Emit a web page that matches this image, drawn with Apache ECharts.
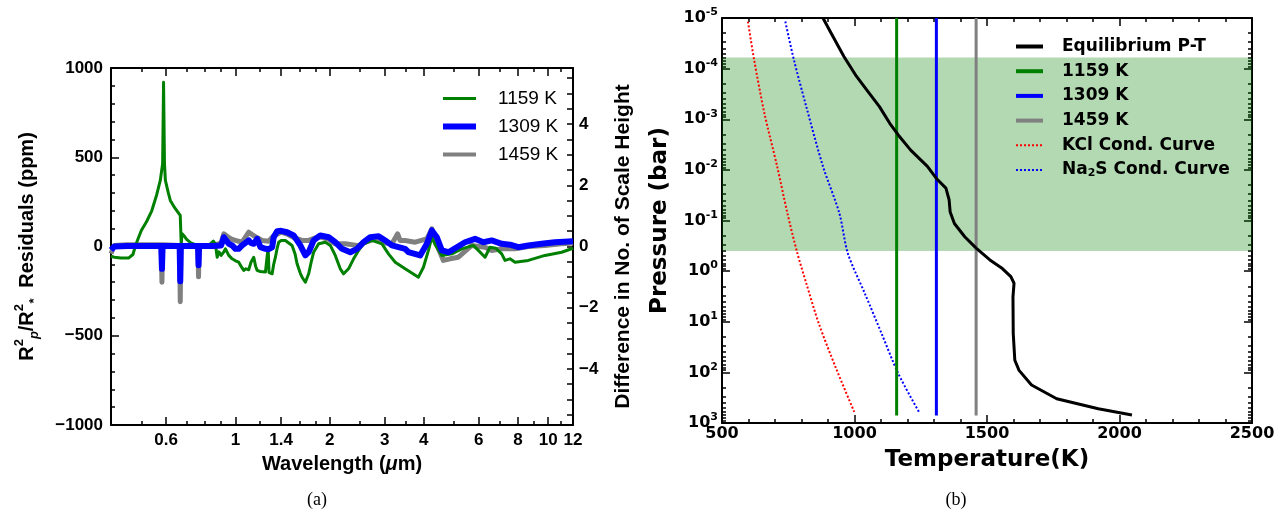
<!DOCTYPE html>
<html>
<head>
<meta charset="utf-8">
<script src="https://cdn.jsdelivr.net/npm/echarts@6/dist/echarts.min.js"></script>
<style>
  html, body { margin: 0; padding: 0; background: #fff; }
  #chart { width: 1285px; height: 516px; }
</style>
</head>
<body>
<div id="chart"></div>
<script>
// ---- (a) residuals vs wavelength ----
const wl1159 = [0.40, 0.41, 0.43, 0.455, 0.47, 0.48, 0.49, 0.50, 0.52, 0.54, 0.56, 0.575, 0.585, 0.589, 0.593, 0.597, 0.61, 0.619, 0.635, 0.65, 0.666, 0.669, 0.671, 0.674, 0.685, 0.698, 0.72, 0.744, 0.78, 0.82, 0.85, 0.862, 0.874, 0.885, 0.90, 0.918, 0.929, 0.952, 0.976, 1.0, 1.024, 1.05, 1.063, 1.08, 1.103, 1.12, 1.144, 1.16, 1.173, 1.20, 1.217, 1.247, 1.265, 1.272, 1.28, 1.31, 1.325, 1.342, 1.359, 1.375, 1.40, 1.444, 1.48, 1.517, 1.55, 1.574, 1.612, 1.633, 1.673, 1.714, 1.75, 1.778, 1.845, 1.938, 2.01, 2.085, 2.163, 2.217, 2.299, 2.386, 2.475, 2.57, 2.73, 2.94, 3.085, 3.242, 3.487, 3.846, 3.99, 4.14, 4.245, 4.35, 4.568, 4.916, 5.29, 5.76, 5.977, 6.28, 6.514, 6.8, 7.10, 7.274, 7.546, 7.83, 8.635, 9.761, 11.04, 12];
const res1159 = [-55, -60, -65, -65, -45, 10, 50, 90, 140, 200, 290, 370, 465, 920, 465, 370, 300, 258, 225, 200, 174, 165, 5, 73, 60, 40, 20, 10, 5, 5, 30, 15, -60, -30, -50, -30, -13, -50, -69, -80, -88, -120, -134, -125, -130, -90, -60, -110, -134, -140, -143, -143, -140, -4, -145, -153, -100, -60, -10, 24, 34, 34, 20, 6, -40, -97, -150, -172, -200, -153, -80, -32, 15, 24, 6, -50, -125, -153, -125, -69, -22, 15, 34, 15, -41, -88, -125, -172, -116, -22, 52, 10, -50, -41, -13, 6, -22, -60, -4, -10, -41, -78, -69, -88, -78, -50, -32, -10];

const wl1309 = [0.40, 0.41, 0.45, 0.50, 0.579, 0.581, 0.582, 0.583, 0.585, 0.663, 0.665, 0.666, 0.667, 0.669, 0.759, 0.761, 0.762, 0.763, 0.765, 0.85, 0.90, 0.918, 0.929, 0.952, 0.976, 1.0, 1.024, 1.05, 1.063, 1.103, 1.12, 1.144, 1.173, 1.202, 1.247, 1.277, 1.31, 1.325, 1.359, 1.40, 1.462, 1.535, 1.612, 1.673, 1.714, 1.778, 1.867, 1.986, 2.085, 2.191, 2.328, 2.446, 2.568, 2.697, 2.868, 3.011, 3.164, 3.487, 3.573, 3.895, 4.092, 4.245, 4.404, 4.568, 4.795, 5.10, 5.42, 5.834, 6.202, 6.596, 7.10, 7.546, 8.023, 8.635, 9.526, 10.50, 12];
const res1309 = [-20, 0, 3, 3, 3, 3, -125, -125, 3, 3, 3, -195, -195, 3, 3, 3, -105, -105, 3, 3, 6, 52, 43, 15, 6, -13, -13, 6, 6, 34, 20, 15, 43, -4, -13, -15, -5, 52, 86, 88, 80, 62, 6, -50, -32, 34, 62, 52, 24, -13, -32, -13, 24, 52, 58, 34, 6, -13, -32, -50, 15, 90, 52, -22, -32, -4, 24, 43, 24, 34, 15, 10, -4, 6, 15, 24, 30];

const wl1459 = [0.40, 0.41, 0.45, 0.50, 0.579, 0.581, 0.582, 0.583, 0.585, 0.663, 0.665, 0.666, 0.667, 0.669, 0.759, 0.761, 0.762, 0.763, 0.765, 0.85, 0.90, 0.918, 0.952, 0.976, 1.0, 1.05, 1.103, 1.144, 1.217, 1.277, 1.325, 1.40, 1.462, 1.535, 1.633, 1.714, 1.845, 1.986, 2.085, 2.245, 2.475, 2.568, 2.799, 3.011, 3.164, 3.30, 3.36, 3.487, 3.754, 4.092, 4.245, 4.456, 4.622, 4.855, 5.16, 5.694, 6.28, 6.596, 7.10, 7.83, 8.635, 9.761, 11.0, 12];
const res1459 = [-40, 5, 10, 10, 10, 10, -200, -200, 10, 5, 5, -310, -310, 5, 5, 5, -170, -170, 5, 5, 20, 71, 50, 40, 34, 24, 80, 60, 34, 30, 60, 80, 70, 50, 34, 34, 55, 40, 15, 15, 5, 20, 43, 20, 15, 71, 34, 34, 24, 43, 99, -13, -78, -69, -60, 6, -4, -22, -13, -13, 0, 6, 15, 20];

const wlMajor = [0.6, 1, 1.4, 2, 3, 4, 6, 8, 10, 12];
const wlMinor = [0.5, 0.7, 0.8, 0.9, 1.2, 1.6, 1.8, 2.5, 3.5, 5, 7, 9, 11];
const scaleHeightLabels = [-4, -2, 0, 2, 4];

// ---- (b) P-T profile ----
const ptTemp = [881, 912, 960, 1007, 1046, 1094, 1133, 1165, 1212, 1275, 1309, 1345, 1357, 1361, 1377, 1416, 1460, 1511, 1558, 1590, 1602, 1598, 1599, 1605, 1621, 1668, 1763, 1920, 2047];
const ptLogP = [-5, -4.70, -4.24, -3.85, -3.58, -3.25, -2.92, -2.69, -2.39, -2.07, -1.83, -1.64, -1.41, -1.17, -0.94, -0.68, -0.45, -0.22, -0.05, 0.11, 0.24, 0.51, 1.23, 1.76, 1.96, 2.25, 2.52, 2.72, 2.84];
const kclTemp = [598, 621, 660, 708, 747, 783, 818, 865, 928, 999];
const kclLogP = [-4.93, -4.18, -3.12, -2.07, -1.14, -0.38, 0.24, 1.03, 1.89, 2.78];
const na2sTemp = [739, 771, 818, 881, 943, 975, 1039, 1102, 1165, 1243];
const na2sLogP = [-4.93, -4.18, -3.25, -2.07, -1.14, -0.35, 0.44, 1.23, 2.02, 2.78];
const isoTemps = [1159, 1309, 1459];
const isoLogP = [-5, 2.85];
const bandLogP = [-4.22, -0.40];

const LOG = Math.log10;
const minus = s => String(s).replace('-', '\u2212');
const HELV = 'Liberation Sans';
const DJV = 'DejaVu Sans';

function toPairs(xs, ys, fx) {
    return xs.map((x, i) => [fx ? fx(x) : x, ys[i]]);
}

// log-decade minor ticks for pressure axis
const pMinor = [];
for (let n = -5; n < 3; n++) {
    for (let k = 2; k <= 9; k++) pMinor.push(n + LOG(k));
}
const shTicks = [];
for (let v = -5.5; v <= 5.5; v += 0.5) shTicks.push(v);

const tickStyle = { color: '#000', width: 1.5 };
const frame = { show: true, onZero: false, lineStyle: { color: '#000', width: 2 } };
const noLine = { show: false, onZero: false };

function tickAxis(base, values, len, showLine) {
    return Object.assign({
        type: 'value',
        axisLine: showLine ? frame : noLine,
        axisLabel: { show: false },
        axisTick: { show: true, inside: true, length: len, customValues: values, lineStyle: tickStyle },
        splitLine: { show: false }
    }, base);
}

const wlMin = LOG(0.4), wlMax = LOG(12);

const xAxes = [
    {
        type: 'value', gridIndex: 0, position: 'bottom', min: wlMin, max: wlMax,
        axisLine: frame,
        axisTick: { inside: true, length: 8, customValues: wlMajor.map(LOG), lineStyle: tickStyle },
        axisLabel: {
            customValues: wlMajor.map(LOG), margin: 7,
            formatter: v => String(Math.round(Math.pow(10, v) * 10) / 10),
            fontFamily: HELV, fontWeight: 'bold', fontSize: 17, color: '#000'
        },
        splitLine: { show: false },
        name: 'Wavelength ({i|\u03bc}m)', nameLocation: 'middle', nameGap: 29,
        nameTextStyle: {
            fontFamily: HELV, fontWeight: 'bold', fontSize: 20, color: '#000',
            rich: { i: { fontFamily: HELV, fontStyle: 'italic', fontWeight: 'bold', fontSize: 20, color: '#000' } }
        }
    },
    tickAxis({ gridIndex: 0, position: 'bottom', min: wlMin, max: wlMax }, wlMinor.map(LOG), 4, false),
    tickAxis({ gridIndex: 0, position: 'top', min: wlMin, max: wlMax }, wlMajor.map(LOG), 8, true),
    tickAxis({ gridIndex: 0, position: 'top', min: wlMin, max: wlMax }, wlMinor.map(LOG), 4, false),
    {
        type: 'value', gridIndex: 1, position: 'bottom', min: 500, max: 2500, interval: 500,
        axisLine: frame,
        axisTick: { inside: true, length: 8, lineStyle: tickStyle },
        minorTick: { show: true, splitNumber: 5, length: 4, lineStyle: tickStyle },
        axisLabel: { margin: 3, formatter: v => String(v), fontFamily: DJV, fontWeight: 'bold', fontSize: 16, color: '#000' },
        splitLine: { show: false },
        name: 'Temperature(K)', nameLocation: 'middle', nameGap: 26,
        nameTextStyle: { fontFamily: DJV, fontWeight: 'bold', fontSize: 23, color: '#000' }
    },
    {
        type: 'value', gridIndex: 1, position: 'top', min: 500, max: 2500, interval: 500,
        axisLine: frame,
        axisTick: { inside: true, length: 8, lineStyle: tickStyle },
        minorTick: { show: true, splitNumber: 5, length: 4, lineStyle: tickStyle },
        axisLabel: { show: false },
        splitLine: { show: false }
    }
];

const supLabel = v => '10{s|' + v + '}';
const yAxes = [
    {
        type: 'value', gridIndex: 0, position: 'left', min: -1000, max: 1000, interval: 500,
        axisLine: frame,
        axisTick: { inside: true, length: 8, lineStyle: tickStyle },
        minorTick: { show: true, splitNumber: 5, length: 4, lineStyle: tickStyle },
        axisLabel: { formatter: v => minus(v), fontFamily: HELV, fontWeight: 'bold', fontSize: 17, color: '#000', margin: 8 },
        splitLine: { show: false },
        name: 'R{sup|2}{sub|p}/R{sup|2}{sub|*}  Residuals (ppm)', nameLocation: 'middle', nameGap: 70,
        nameTextStyle: {
            fontFamily: HELV, fontWeight: 'bold', fontSize: 20, color: '#000', lineHeight: 28,
            rich: {
                sup: { fontFamily: HELV, fontWeight: 'bold', fontSize: 13, lineHeight: 14, verticalAlign: 'top', color: '#000' },
                sub: { fontFamily: HELV, fontWeight: 'bold', fontStyle: 'italic', fontSize: 13, lineHeight: 14, verticalAlign: 'bottom', color: '#000' }
            }
        }
    },
    {
        type: 'value', gridIndex: 0, position: 'right', min: -5.833, max: 5.833,
        axisLine: frame,
        axisTick: { inside: true, length: 6, customValues: shTicks, lineStyle: tickStyle },
        axisLabel: {
            customValues: scaleHeightLabels, formatter: v => minus(v),
            fontFamily: HELV, fontWeight: 'bold', fontSize: 17, color: '#000', margin: 6
        },
        splitLine: { show: false },
        name: 'Difference in No. of Scale Height', nameLocation: 'middle', nameGap: 40,
        nameTextStyle: { fontFamily: HELV, fontWeight: 'bold', fontSize: 21, color: '#000' }
    },
    {
        type: 'value', gridIndex: 1, position: 'left', min: -5, max: 3, interval: 1, inverse: true,
        axisLine: frame,
        axisTick: { inside: true, length: 8, lineStyle: tickStyle },
        axisLabel: {
            formatter: supLabel, margin: 4,
            fontFamily: DJV, fontWeight: 'bold', fontSize: 16, color: '#000', lineHeight: 22,
            rich: { s: { fontFamily: DJV, fontWeight: 'bold', fontSize: 11, lineHeight: 12, verticalAlign: 'top', color: '#000' } }
        },
        splitLine: { show: false },
        name: 'Pressure (bar)', nameLocation: 'middle', nameGap: 50,
        nameTextStyle: { fontFamily: DJV, fontWeight: 'bold', fontSize: 23, color: '#000' }
    },
    tickAxis({ gridIndex: 1, position: 'left', min: -5, max: 3, inverse: true }, pMinor, 4, false),
    tickAxis({ gridIndex: 1, position: 'right', min: -5, max: 3, inverse: true }, [-5, -4, -3, -2, -1, 0, 1, 2, 3], 8, true),
    tickAxis({ gridIndex: 1, position: 'right', min: -5, max: 3, inverse: true }, pMinor, 4, false)
];

function residualSeries(name, wl, res, color, width, z) {
    return {
        name: name, type: 'line', xAxisIndex: 0, yAxisIndex: 0, z: z,
        data: toPairs(wl, res, LOG),
        showSymbol: false, symbol: 'none',
        lineStyle: { color: color, width: width, join: 'round' },
        itemStyle: { color: color }
    };
}

function ptSeries(name, temps, logp, color, width, type, z, smooth) {
    return {
        name: name, type: 'line', xAxisIndex: 4, yAxisIndex: 2, z: z,
        data: toPairs(temps, logp),
        showSymbol: false, symbol: 'none', smooth: smooth || false,
        lineStyle: { color: color, width: width, type: type },
        itemStyle: { color: color }
    };
}

const isoColors = ['#008000', '#0000ff', '#808080'];
const series = [
    residualSeries('1459 K', wl1459, res1459, '#808080', 5, 2),
    residualSeries('1159 K', wl1159, res1159, '#008000', 3, 3),
    residualSeries('1309 K', wl1309, res1309, '#0000ff', 6, 4),
    {
        name: 'band', type: 'line', xAxisIndex: 4, yAxisIndex: 2, z: 1, data: [],
        markArea: {
            silent: true,
            itemStyle: { color: 'rgba(0,128,0,0.3)' },
            data: [[{ yAxis: bandLogP[0] }, { yAxis: bandLogP[1] }]]
        }
    },
    ptSeries('KCl Cond. Curve', kclTemp, kclLogP, '#ff0000', 2, [2, 2], 2, 0.3),
    ptSeries('Na2S Cond. Curve', na2sTemp, na2sLogP, '#0000ff', 2, [2, 2], 2, 0.3)
];
isoTemps.forEach((t, i) => {
    series.push(ptSeries(t + ' K ', [t, t], isoLogP, isoColors[i], 3, 'solid', 3));
});
series.push(ptSeries('Equilibrium P-T', ptTemp, ptLogP, '#000000', 3, 'solid', 4));

const option = {
    animation: false,
    backgroundColor: '#fff',
    grid: [
        { left: 111, right: 712, top: 68, bottom: 91 },
        { left: 722, right: 33, top: 18, bottom: 93 }
    ],
    xAxis: xAxes,
    yAxis: yAxes,
    legend: [
        {
            data: [
                { name: '1159 K', lineStyle: { width: 3 } },
                { name: '1309 K', lineStyle: { width: 6 } },
                { name: '1459 K', lineStyle: { width: 4 } }
            ],
            orient: 'vertical', left: 435, top: 84,
            itemWidth: 33, itemHeight: 20, itemGap: 9,
            selectedMode: false,
            itemStyle: { opacity: 0 },
            textStyle: { fontFamily: HELV, fontSize: 19, color: '#000', padding: [0, 0, 0, 17] }
        },
        {
            data: [
                { name: 'Equilibrium P-T', lineStyle: { width: 4 } },
                { name: '1159 K ', lineStyle: { width: 4 } },
                { name: '1309 K ', lineStyle: { width: 4 } },
                { name: '1459 K ', lineStyle: { width: 4 } },
                { name: 'KCl Cond. Curve', lineStyle: { width: 2 } },
                { name: 'Na2S Cond. Curve', lineStyle: { width: 2 } }
            ],
            orient: 'vertical', left: 1009, top: 33,
            itemWidth: 27, itemHeight: 18, itemGap: 7.7,
            selectedMode: false,
            itemStyle: { opacity: 0 },
            formatter: n => n === 'Na2S Cond. Curve' ? 'Na{s|2}S Cond. Curve' : n,
            textStyle: {
                fontFamily: DJV, fontWeight: 'bold', fontSize: 17, color: '#000', padding: [0, 0, 0, 14],
                rich: { s: { fontFamily: DJV, fontWeight: 'bold', fontSize: 11, lineHeight: 12, verticalAlign: 'bottom', color: '#000' } }
            }
        }
    ],
    graphic: [
        { type: 'text', x: 317, y: 500, style: { text: '(a)', fontFamily: 'Liberation Serif', fontSize: 18, fill: '#000', align: 'center', verticalAlign: 'middle' } },
        { type: 'text', x: 956, y: 500, style: { text: '(b)', fontFamily: 'Liberation Serif', fontSize: 18, fill: '#000', align: 'center', verticalAlign: 'middle' } }
    ],
    series: series
};

const chart = echarts.init(document.getElementById('chart'));
chart.setOption(option);
</script>
</body>
</html>
